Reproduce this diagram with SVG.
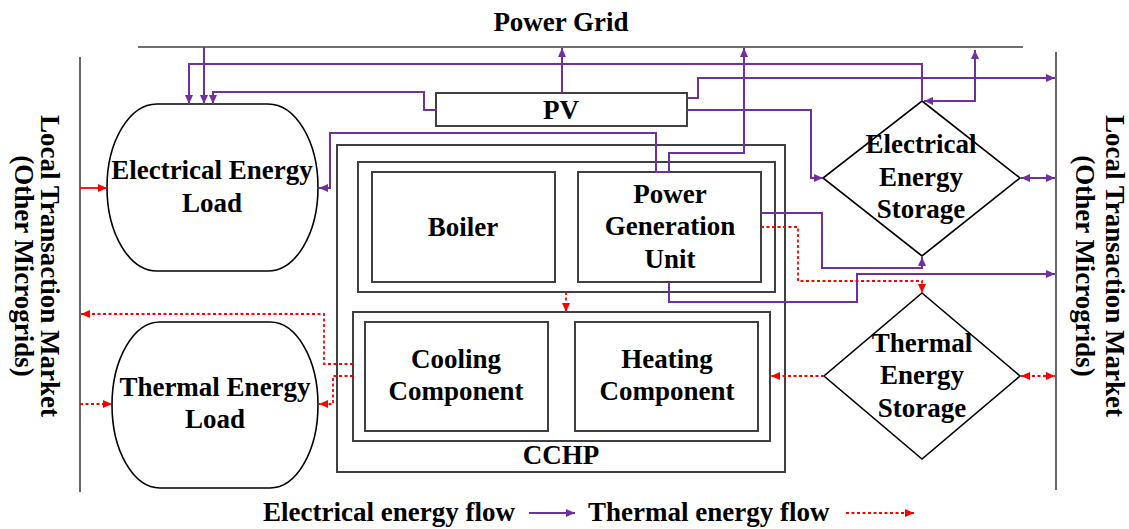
<svg xmlns="http://www.w3.org/2000/svg" width="1129" height="529" viewBox="0 0 1129 529">
<defs>
<style>
text{font-family:"Liberation Serif","Times New Roman",serif;font-weight:bold;font-size:27px;fill:#000;text-anchor:middle}
.box{fill:none;stroke:#404040;stroke-width:2}
.shape{fill:#fff;stroke:#000;stroke-width:1.6}
.bar{fill:none;stroke:#404040;stroke-width:1.6}
.el{fill:none;stroke:#7030A0;stroke-width:2;marker-end:url(#pa)}
.elb{fill:none;stroke:#7030A0;stroke-width:2;marker-end:url(#pa);marker-start:url(#pa)}
.th{fill:none;stroke:#FF0000;stroke-width:1.8;stroke-dasharray:3 2.5;marker-end:url(#ra)}
.thb{fill:none;stroke:#FF0000;stroke-width:1.8;stroke-dasharray:3 2.5;marker-end:url(#ra);marker-start:url(#ra)}
</style>
<marker id="pa" markerUnits="userSpaceOnUse" markerWidth="10" markerHeight="8" refX="9" refY="4" orient="auto-start-reverse"><path d="M0,0 L9,4 L0,8 z" fill="#7030A0"/></marker>
<marker id="ra" markerUnits="userSpaceOnUse" markerWidth="10" markerHeight="8" refX="9" refY="4" orient="auto-start-reverse"><path d="M0,0 L9,4 L0,8 z" fill="#FF0000"/></marker>
</defs>

<g id="power-grid">
<line class="bar" x1="138" y1="47" x2="1023" y2="47"/>
<text x="561" y="31">Power Grid</text>
</g>

<g id="market-left">
<line class="bar" x1="80" y1="57" x2="80" y2="492"/>
<text transform="translate(41,266) rotate(90)">Local Transaction Market</text>
<text transform="translate(15,266) rotate(90)">(Other Microgrids)</text>
</g>

<g id="market-right">
<line class="bar" x1="1056" y1="52" x2="1056" y2="490"/>
<text transform="translate(1106,266) rotate(90)">Local Transaction Market</text>
<text transform="translate(1076,266) rotate(90)">(Other Microgrids)</text>
</g>

<g id="electrical-load">
<path class="shape" d="M157,104 H268 A50,83.5 0 0 1 318,187.5 A50,83.5 0 0 1 268,271 H157 A50,83.5 0 0 1 107,187.5 A50,83.5 0 0 1 157,104 Z"/>
<text x="212" y="179">Electrical Energy</text>
<text x="212" y="212">Load</text>
</g>

<g id="thermal-load">
<path class="shape" d="M160,322 H270 A48,83 0 0 1 318,405 A48,83 0 0 1 270,488 H160 A48,83 0 0 1 112,405 A48,83 0 0 1 160,322 Z"/>
<text x="215" y="396">Thermal Energy</text>
<text x="215" y="428">Load</text>
</g>

<g id="pv">
<rect class="box" x="436" y="93" width="251" height="33" fill="#fff"/>
<text x="561" y="119">PV</text>
</g>

<g id="cchp">
<rect class="box" x="337" y="145" width="448" height="327"/>
<rect class="box" x="358" y="162" width="417" height="130"/>
<rect class="box" x="353" y="312" width="417" height="129"/>
<text x="561" y="464">CCHP</text>
</g>

<g id="boiler">
<rect class="box" x="372" y="172" width="183" height="110"/>
<text x="463" y="236">Boiler</text>
</g>

<g id="pgu">
<rect class="box" x="578" y="172" width="183" height="110"/>
<text x="670" y="203">Power</text>
<text x="670" y="235">Generation</text>
<text x="670" y="268">Unit</text>
</g>

<g id="cooling">
<rect class="box" x="365" y="322" width="183" height="109"/>
<text x="456" y="368">Cooling</text>
<text x="456" y="400">Component</text>
</g>

<g id="heating">
<rect class="box" x="575" y="322" width="183" height="109"/>
<text x="667" y="368">Heating</text>
<text x="667" y="400">Component</text>
</g>

<g id="electrical-storage">
<path class="shape" d="M922,101 L1020,178 L922,256 L823,178 Z"/>
<text x="921" y="153">Electrical</text>
<text x="921" y="186">Energy</text>
<text x="921" y="218">Storage</text>
</g>

<g id="thermal-storage">
<path class="shape" d="M922,293 L1020,376 L922,459 L824,376 Z"/>
<text x="922" y="352">Thermal</text>
<text x="922" y="384">Energy</text>
<text x="922" y="417">Storage</text>
</g>

<g id="connectors">
<!-- electrical -->
<path class="el" d="M204,47 V104"/>
<path class="el" d="M922,101 V64 H189 V104"/>
<path class="el" d="M436,110 H424 V92 H213 V104"/>
<path class="el" d="M562,93 V48"/>
<path class="el" d="M656,172 V133 H330 V188 H319"/>
<path class="el" d="M656,172 H669 V153 H744 V48"/>
<path class="elb" d="M975,50 V101 H924"/>
<path class="el" d="M687,98 H698 V78 H1055"/>
<path class="el" d="M687,110 H811 V178 H823"/>
<path class="el" d="M761,213 H822 V268 H922 V257"/>
<path class="el" d="M669,282 V302 H857 V274 H1055"/>
<path class="elb" d="M1021,178 H1055"/>
<!-- thermal -->
<path d="M80,188 H107" fill="none" stroke="#FF0000" stroke-width="1.8" marker-end="url(#ra)"/>
<path class="th" d="M761,227 H798 V281 H922 V293"/>
<path class="th" d="M566,292 V312"/>
<path class="th" d="M824,376 H771"/>
<path class="thb" d="M1021,376 H1055"/>
<path class="th" d="M353,364 H324 V314 H81"/>
<path class="th" d="M353,376 H333 V404 H319"/>
<path class="th" d="M80,404 H112"/>
</g>

<g id="legend">
<text x="263" y="521" style="text-anchor:start">Electrical energy flow</text>
<path class="el" d="M529,513 H575"/>
<text x="588" y="521" style="text-anchor:start">Thermal energy flow</text>
<path class="th" d="M846,513 H914"/>
</g>
</svg>
